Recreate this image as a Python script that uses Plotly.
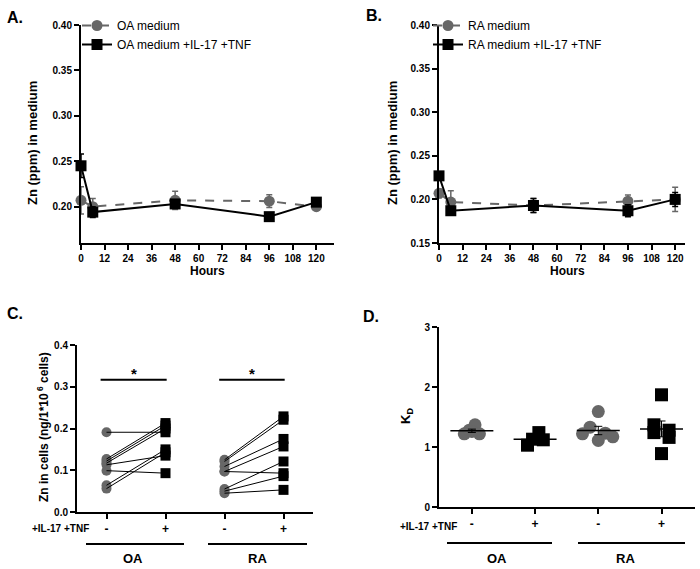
import numpy as np
import plotly.graph_objects as go

# ---------------- data ----------------
hours = [0, 6, 48, 96, 120]
oa_medium = [0.207, 0.200, 0.207, 0.206, 0.200]
oa_medium_err = [0.015, 0.009, 0.010, 0.007, 0.003]
oa_stim = [0.245, 0.194, 0.203, 0.189, 0.205]
oa_stim_err = [0.013, 0.006, 0.004, 0.003, 0.003]

ra_medium = [0.207, 0.197, 0.193, 0.198, 0.200]
ra_medium_err = [0.005, 0.013, 0.008, 0.007, 0.014]
ra_stim = [0.227, 0.187, 0.193, 0.187, 0.200]
ra_stim_err = [0.004, 0.003, 0.008, 0.007, 0.008]

# panel C paired values (Zn in cells)
c_oa_minus = [0.191, 0.127, 0.122, 0.117, 0.113, 0.099, 0.064, 0.056]
c_oa_plus = [0.191, 0.213, 0.207, 0.200, 0.135, 0.093, 0.150, 0.143]
c_ra_minus = [0.125, 0.121, 0.109, 0.097, 0.097, 0.055, 0.050, 0.045]
c_ra_plus = [0.229, 0.221, 0.175, 0.157, 0.093, 0.121, 0.086, 0.053]

# panel D K_D values
d_oa_minus = [1.22, 1.28, 1.37, 1.22, 1.26]
d_oa_plus = [1.03, 1.13, 1.24, 1.12]
d_ra_minus = [1.59, 1.33, 1.22, 1.11, 1.23, 1.17]
d_ra_plus = [1.87, 1.37, 1.24, 1.28, 1.16, 0.89]

tick_signs = ["-", "+", "-", "+"]
group_labels = ["OA", "RA"]

# ---------------- style ----------------
FONT = "Liberation Sans, Arial, sans-serif"
GRAY = "#676767"
BLACK = "#000000"

fig = go.Figure()

def time_traces(xa, ya, med, med_err, stim, stim_err, name_med, name_stim, legend):
    fig.add_trace(go.Scatter(
        x=hours, y=med, mode="lines+markers", name=name_med,
        line=dict(color=GRAY, width=2, dash="dash"),
        marker=dict(symbol="circle", size=11, color=GRAY),
        error_y=dict(type="data", array=med_err, color=GRAY, thickness=1.5, width=3),
        xaxis=xa, yaxis=ya, legend=legend, cliponaxis=False))
    fig.add_trace(go.Scatter(
        x=hours, y=stim, mode="lines+markers", name=name_stim,
        line=dict(color=BLACK, width=2),
        marker=dict(symbol="square", size=11, color=BLACK),
        error_y=dict(type="data", array=stim_err, color=BLACK, thickness=1.5, width=3),
        xaxis=xa, yaxis=ya, legend=legend, cliponaxis=False))

time_traces("x", "y", oa_medium, oa_medium_err, oa_stim, oa_stim_err,
            "OA medium", "OA medium +IL-17 +TNF", "legend")
time_traces("x2", "y2", ra_medium, ra_medium_err, ra_stim, ra_stim_err,
            "RA medium", "RA medium +IL-17 +TNF", "legend2")

# ---- panel C ----
for pos, minus, plus in [(1, c_oa_minus, c_oa_plus), (3, c_ra_minus, c_ra_plus)]:
    fig.add_trace(go.Scatter(x=[pos] * len(minus), y=minus, mode="markers",
                             marker=dict(symbol="circle", size=10, color=GRAY),
                             xaxis="x3", yaxis="y3", showlegend=False, cliponaxis=False))
    fig.add_trace(go.Scatter(x=[pos + 1] * len(plus), y=plus, mode="markers",
                             marker=dict(symbol="square", size=10, color=BLACK),
                             xaxis="x3", yaxis="y3", showlegend=False, cliponaxis=False))
    lx, ly = [], []
    for a, b in zip(minus, plus):
        lx += [pos, pos + 1, None]
        ly += [a, b, None]
    fig.add_trace(go.Scatter(x=lx, y=ly, mode="lines", line=dict(color=BLACK, width=1),
                             xaxis="x3", yaxis="y3", showlegend=False, cliponaxis=False))

# ---- panel D ----
d_groups = [d_oa_minus, d_oa_plus, d_ra_minus, d_ra_plus]
d_jitter = [[-0.12, -0.04, 0.05, 0.12, 0.0],
            [-0.12, -0.04, 0.06, 0.13],
            [0.0, -0.13, -0.25, 0.0, 0.11, 0.23],
            [0.0, -0.12, -0.12, 0.12, 0.12, 0.0]]
d_symbols = ["circle", "square", "circle", "square"]
d_colors = [GRAY, BLACK, GRAY, BLACK]
for i, (vals, jit) in enumerate(zip(d_groups, d_jitter)):
    pos = i + 1
    fig.add_trace(go.Scatter(x=[pos + j for j in jit], y=vals, mode="markers",
                             marker=dict(symbol=d_symbols[i], size=13, color=d_colors[i]),
                             xaxis="x4", yaxis="y4", showlegend=False, cliponaxis=False))
    m = float(np.mean(vals))
    sem = float(np.std(vals, ddof=1) / np.sqrt(len(vals)))
    fig.add_trace(go.Scatter(x=[pos - 0.34, pos + 0.34], y=[m, m], mode="lines",
                             line=dict(color=BLACK, width=1.5),
                             xaxis="x4", yaxis="y4", showlegend=False))
    fig.add_trace(go.Scatter(x=[pos], y=[m], mode="markers", marker=dict(size=1, color=BLACK, opacity=0),
                             error_y=dict(type="data", array=[sem], color=BLACK, thickness=1, width=4),
                             xaxis="x4", yaxis="y4", showlegend=False))

# ---------------- axes ----------------
W, H = 700, 569
def px_x(p): return p / W
def px_y(p): return 1 - p / H

def axis_style(size=10):
    return dict(showline=True, linecolor=BLACK, linewidth=2, ticks="outside",
                ticklen=5, tickwidth=2, tickcolor=BLACK, showgrid=False, zeroline=False,
                tickfont=dict(family=FONT, size=size, color=BLACK, weight="bold"))

fig.update_layout(
    xaxis=dict(domain=[px_x(81), px_x(334)], anchor="y", range=[0, 129],
               tickvals=list(range(0, 121, 12)), **axis_style()),
    yaxis=dict(domain=[px_y(243), px_y(25)], anchor="x", range=[0.16, 0.40],
               tickvals=[0.20, 0.25, 0.30, 0.35, 0.40], tickformat=".2f", **axis_style()),
    xaxis2=dict(domain=[px_x(439), px_x(685)], anchor="y2", range=[0, 125],
                tickvals=list(range(0, 121, 12)), **axis_style()),
    yaxis2=dict(domain=[px_y(243), px_y(25)], anchor="x2", range=[0.15, 0.40],
                tickvals=[0.15, 0.20, 0.25, 0.30, 0.35, 0.40], tickformat=".2f", **axis_style()),
    xaxis3=dict(domain=[px_x(77), px_x(313)], anchor="y3", range=[0.5, 4.5],
                tickvals=[1, 2, 3, 4], ticktext=tick_signs, **axis_style(12)),
    yaxis3=dict(domain=[px_y(512), px_y(345)], anchor="x3", range=[0, 0.4],
                tickvals=[0, 0.1, 0.2, 0.3, 0.4], tickformat=".1f", **axis_style()),
    xaxis4=dict(domain=[px_x(439), px_x(695)], anchor="y4", range=[0.48, 4.53],
                tickvals=[1, 2, 3, 4], ticktext=tick_signs, **axis_style(12)),
    yaxis4=dict(domain=[px_y(507), px_y(327)], anchor="x4", range=[0, 3],
                tickvals=[0, 1, 2, 3], **axis_style()),
)

legend_common = dict(font=dict(family=FONT, size=12, color=BLACK), bgcolor="rgba(0,0,0,0)",
                     xanchor="left", yanchor="top", itemwidth=30, tracegroupgap=0)
fig.update_layout(
    legend=dict(x=px_x(77), y=px_y(11), **legend_common),
    legend2=dict(x=px_x(428), y=px_y(11), **legend_common),
)

# ---------------- annotations ----------------
ann = []
def text(x, y, s, size, bold=True, angle=0, xanchor="center"):
    ann.append(dict(x=px_x(x), y=px_y(y), xref="paper", yref="paper", text=s,
                    showarrow=False, textangle=angle, xanchor=xanchor, yanchor="middle",
                    font=dict(family=FONT, size=size, color=BLACK, weight="bold" if bold else "normal")))

text(15, 17, "A.", 16)
text(374, 15, "B.", 16)
text(15, 313, "C.", 16)
text(371, 316, "D.", 16)
text(32, 143, "Zn (ppm) in medium", 13, angle=-90)
text(392, 143, "Zn (ppm) in medium", 13, angle=-90)
text(207, 271, "Hours", 12)
text(567, 271, "Hours", 12)
text(43, 427, "Zn in cells (ng/1*10<sup> 6</sup> cells)", 12, angle=-90)
text(406, 416, "K<sub>D</sub>", 13, angle=-90)
text(91, 528, "+IL-17 +TNF", 10, xanchor="right")
text(459, 526, "+IL-17 +TNF", 10, xanchor="right")
text(133, 558, group_labels[0], 13)
text(257, 558, group_labels[1], 13)
text(497, 558, group_labels[0], 13)
text(625, 558, group_labels[1], 13)

# significance stars (panel C)
sig_y = 0.317
sig_spans = [(0.9, 2.02), (2.91, 4.02)]
shapes = []
for x0, x1 in sig_spans:
    shapes.append(dict(type="line", xref="x3", yref="y3", x0=x0, x1=x1, y0=sig_y, y1=sig_y,
                       line=dict(color=BLACK, width=2)))
    ann.append(dict(x=(x0 + x1) / 2, y=sig_y, xref="x3", yref="y3", text="*", showarrow=False,
                    yanchor="bottom", yshift=-4,
                    font=dict(family=FONT, size=15, color=BLACK, weight="bold")))

# group underlines
for x0, x1, y in [(86, 184, 544), (208, 307, 544), (447, 552, 543), (578, 685, 543)]:
    shapes.append(dict(type="line", xref="paper", yref="paper", x0=px_x(x0), x1=px_x(x1),
                       y0=px_y(y), y1=px_y(y), line=dict(color=BLACK, width=2)))

fig.update_layout(annotations=ann, shapes=shapes, width=W, height=H,
                  margin=dict(l=0, r=0, t=0, b=0, autoexpand=False),
                  plot_bgcolor="white", paper_bgcolor="white",
                  font=dict(family=FONT, color=BLACK))

fig.write_html("out.html", config={"displayModeBar": False},
               post_script="document.body.style.margin='0';document.body.style.overflow='hidden';")
